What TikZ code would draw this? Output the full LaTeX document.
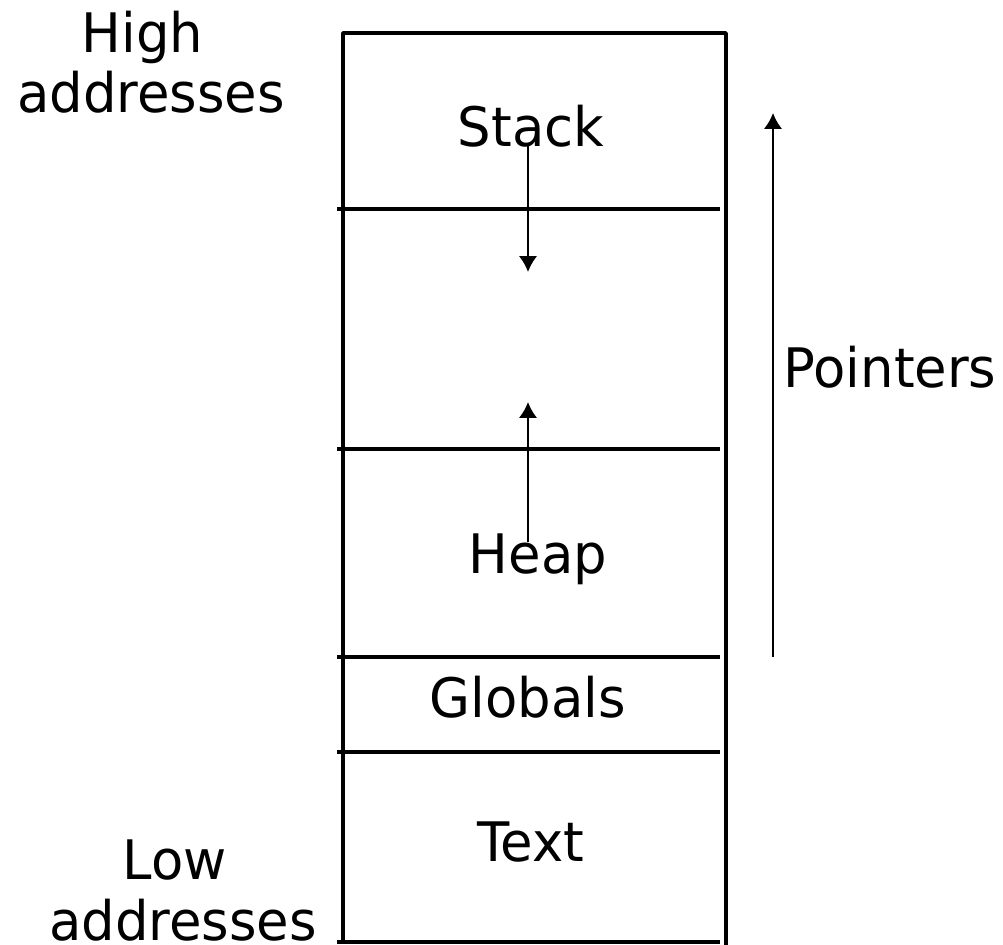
\documentclass[tikz,border=0pt]{standalone}
\usepackage{fontspec}
\setmainfont{DejaVu Sans}[FakeStretch=0.97]
\usetikzlibrary{arrows.meta}

\begin{document}
\begin{tikzpicture}[x=0.02cm,y=-0.02cm,
    every node/.style={inner sep=0pt,anchor=base,font=\fontsize{31}{34.7}\selectfont},
    wall/.style={line width=2.1pt,line join=round},
    growarrow/.style={line width=1.3pt,-{Latex[length=3.2mm,width=3.7mm]}}]
  \useasboundingbox (0,0) rectangle (1003,945);

  % Outer walls
  \draw[wall] (343,940) -- (343,33) -- (726,33) -- (726,945);

  % Segment boundaries
  \foreach \y in {209,449,657,752,942}
    \draw[wall] (337,\y) -- (720,\y);

  % Segment labels
  \node (stack)   at (531,147) {Stack};
  \node (heap)    at (538,573) {Heap};
  \node (globals) at (528,717) {Globals};
  \node (text)    at (531,861) {Text};

  % Address labels (base is the last line)
  \node[align=center] (high) at (151,113) {High\hphantom{\ }\\addresses};
  \node[align=center] (low)  at (183,940) {Low\hphantom{\ }\\addresses};

  % Growth of stack and heap
  \coordinate (stackfrom) at (528,144);
  \coordinate (stackto)   at (528,272);
  \coordinate (heapfrom)  at (528,542);
  \coordinate (heapto)    at (528,402);
  \draw[growarrow] (stackfrom) -- (stackto);
  \draw[growarrow] (heapfrom) -- (heapto);

  % Pointer direction
  \coordinate (ptrlow)  at (773,657);
  \coordinate (ptrhigh) at (773,113);
  \draw[growarrow] (ptrlow) -- (ptrhigh);
  \node (pointers) at (890,388) {Pointers};

\end{tikzpicture}
\end{document}
